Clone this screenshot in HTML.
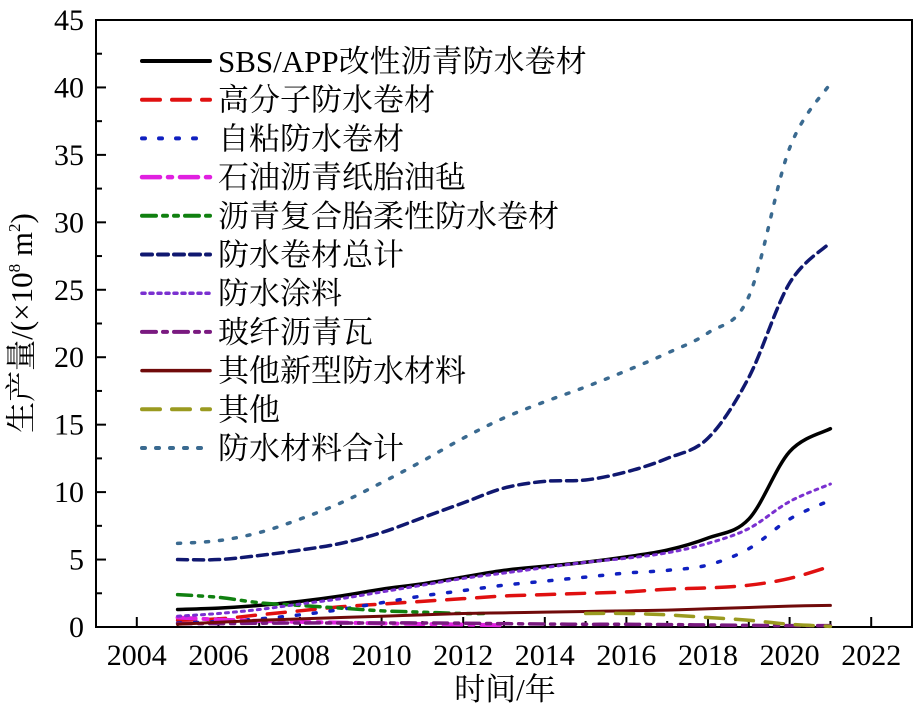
<!DOCTYPE html>
<html><head><meta charset="utf-8"><style>
html,body{margin:0;padding:0;background:#fff;}
svg{display:block;font-family:"Liberation Serif","Noto Serif CJK SC",serif;}
</style></head><body>
<svg id="s" width="920" height="708" viewBox="0 0 920 708" xmlns="http://www.w3.org/2000/svg">
<rect x="96" y="20" width="816" height="607" fill="none" stroke="#000" stroke-width="2"/>
<g id="ticks" stroke="#000" stroke-width="2"></g>
<g id="lines" fill="none"></g>
<g id="labels" font-size="30" fill="#000"></g>
<text x="505" y="700" font-size="31" text-anchor="middle">时间/年</text>
<text transform="translate(32,323) rotate(-90)" font-size="31" text-anchor="middle">生产量/(×10<tspan font-size="17" dy="-12">8</tspan><tspan dy="12"> m</tspan><tspan font-size="17" dy="-12">2</tspan><tspan dy="12">)</tspan></text>
<g id="legend" font-size="31"></g>
</svg>
<script>
const NS="http://www.w3.org/2000/svg";
const X=y=>96+(y-2003)*40.8, Y=v=>627-v*13.489;
function el(t,a,p,txt){const e=document.createElementNS(NS,t);for(const k in a)e.setAttribute(k,a[k]);if(txt!=null)e.textContent=txt;document.getElementById(p).appendChild(e);return e;}
for(let v=0;v<=45;v+=2.5){const y=Y(v),L=v%5==0?10:6;el('line',{x1:96,x2:96+L,y1:y,y2:y},'ticks');
 if(v%5==0)el('text',{x:84,y:y+10,'text-anchor':'end'},'labels',String(v));}
for(let yr=2004;yr<=2022;yr++){const x=X(yr),L=yr%2==0?10:6;el('line',{x1:x,x2:x,y1:627,y2:627-L},'ticks');
 if(yr%2==0)el('text',{x:x,y:665,'text-anchor':'middle'},'labels',String(yr));}
function path(pts){const p=pts.map(([a,b])=>[X(a),Y(b)]);let d=`M${p[0][0]},${p[0][1]}`;
 for(let i=0;i<p.length-1;i++){const p0=p[i-1]||p[i],p1=p[i],p2=p[i+1],p3=p[i+2]||p2;
 d+=` C${p1[0]+(p2[0]-p0[0])/6},${p1[1]+(p2[1]-p0[1])/6} ${p2[0]-(p3[0]-p1[0])/6},${p2[1]-(p3[1]-p1[1])/6} ${p2[0]},${p2[1]}`;}return d;}
const yrs=a=>a.map((v,i)=>[2005+i,v]);
const S=[
 ['SBS/APP改性沥青防水卷材','#000','',3.5,yrs([1.3,1.4,1.6,1.9,2.3,2.8,3.2,3.7,4.2,4.5,4.8,5.2,5.7,6.6,8.0,13.0,14.7])],
 ['高分子防水卷材','#e01010','18 12',3.5,yrs([0.5,0.6,0.9,1.2,1.5,1.7,1.9,2.1,2.3,2.4,2.5,2.6,2.8,2.9,3.1,3.6,4.5])],
 ['自粘防水卷材','#1020c0','3 14',3.5,yrs([0.3,0.4,0.6,0.9,1.3,1.8,2.3,2.7,3.1,3.4,3.7,4.0,4.2,4.6,5.8,8.0,9.4])],
 ['石油沥青纸胎油毡','#e020e0','18 8 4 8',4,yrs([0.7,0.55,0.45,0.38,0.32,0.27,0.22,0.18,0.12])],
 ['沥青复合胎柔性防水卷材','#108010','14 7 4 7 4 7',3.5,yrs([2.4,2.2,1.8,1.6,1.4,1.2,1.1,1.0]).concat([[2012.5,1.0]])],
 ['防水卷材总计','#101870','10 6',3.5,yrs([5.0,5.0,5.3,5.7,6.2,7.0,8.1,9.2,10.3,10.8,10.9,11.5,12.5,14.0,18.5,25.5,28.5])],
 ['防水涂料','#7a30d0','3 5',3,yrs([0.8,1.0,1.3,1.7,2.1,2.6,3.1,3.6,4.0,4.4,4.8,5.1,5.5,6.2,7.3,9.3,10.6])],
 ['玻纤沥青瓦','#7a1a80','14 7 4 7',3.5,yrs([0.25,0.25,0.28,0.3,0.3,0.3,0.3,0.28,0.25,0.22,0.2,0.2,0.18,0.15,0.12,0.1,0.1])],
 ['其他新型防水材料','#700a0a','',3,yrs([0.2,0.35,0.5,0.6,0.7,0.8,0.9,1.0,1.05,1.1,1.15,1.2,1.25,1.35,1.45,1.55,1.6])],
 ['其他','#9a9a20','18 12',3.5,[[2015,1.0],[2016,1.0],[2017,0.9],[2018,0.7],[2019,0.5],[2020,0.2],[2021,0.05]]],
 ['防水材料合计','#3a6a90','3 11',3.5,yrs([6.2,6.4,7.0,8.0,9.2,10.7,12.3,14.0,15.5,16.7,17.8,19.0,20.3,21.8,24.5,35.5,40.3])]
];
S.forEach((s,i)=>{const a={d:path(s[4]),stroke:s[1],'stroke-width':s[3],'stroke-linecap':'round'};if(s[2])a['stroke-dasharray']=s[2];el('path',a,'lines');
 const y=61+i*38.7;const b={x1:142,x2:210,y1:y,y2:y,stroke:s[1],'stroke-width':s[3]+0.5,'stroke-linecap':'round'};if(s[2])b['stroke-dasharray']=s[2];el('line',b,'legend');
 el('text',{x:218,y:y+11},'legend',s[0]);});
</script>
</body></html>
